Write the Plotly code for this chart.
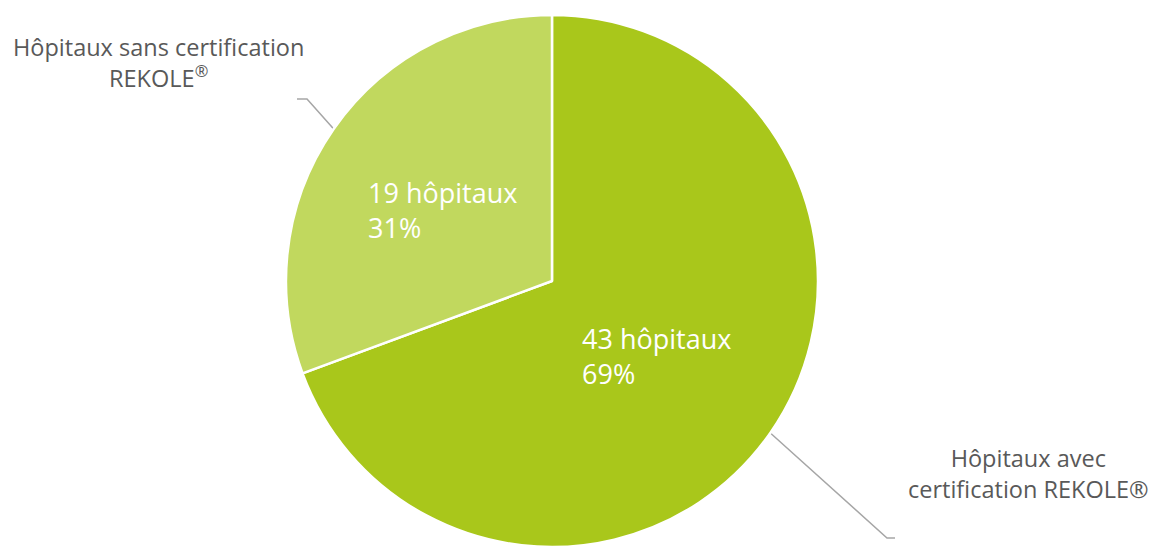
import math
import plotly.graph_objects as go

# data
labels = ["Hôpitaux avec<br>certification REKOLE®", "Hôpitaux sans certification<br>REKOLE<sup>®</sup>"]
counts = [43, 19]
percents = ["69%", "31%"]
colors = ["#A9C71B", "#C1D85E"]

W, H = 1152, 547
MT = 15
PLOT_H = H - MT


def px(x):
    return x / W


def py(y):
    return (H - y) / PLOT_H


fig = go.Figure(go.Pie(
    labels=labels,
    values=counts,
    sort=False,
    direction="clockwise",
    rotation=0,
    textinfo="none",
    hoverinfo="label+value+percent",
    marker=dict(colors=colors, line=dict(color="white", width=2.5)),
    domain=dict(x=[0.0, 0.9583], y=[0, 1]),
    showlegend=False,
))

# pie geometry in pixels
cx, cy = 0.4792 * W, MT + PLOT_H / 2
r = PLOT_H / 2

total = sum(counts)
cum = 0
mids = []
for c in counts:
    mids.append((cum + c / 2) / total * 2 * math.pi)
    cum += c

# inner labels
inner_pos = [(580, 356), (366, 210)]
for (x, y), n, p in zip(inner_pos, counts, percents):
    fig.add_annotation(x=px(x), y=py(y), xref="paper", yref="paper",
                       text=f"{n} hôpitaux<br>{p}", showarrow=False,
                       xanchor="left", yanchor="middle", align="left",
                       font=dict(family="Open Sans", size=27, color="white"))

# outer labels with leader lines
outer_pos = [(1028, 474), (158, 62)]
elbows = [((887, 538), (895, 538)), ((307, 99), (297, 99))]
for lab, (x, y), a, (e1, e2) in zip(labels, outer_pos, mids, elbows):
    fig.add_annotation(x=px(x), y=py(y), xref="paper", yref="paper",
                       text=lab, showarrow=False, xanchor="center", yanchor="middle",
                       align="center",
                       font=dict(family="Open Sans", size=23.5, color="#595959"))
    rx = cx + r * math.sin(a)
    ry = cy - r * math.cos(a)
    path = f"M {px(rx)} {py(ry)} L {px(e1[0])} {py(e1[1])} L {px(e2[0])} {py(e2[1])}"
    fig.add_shape(type="path", path=path, xref="paper", yref="paper",
                  line=dict(color="#A6A6A6", width=1.5), layer="below")

fig.update_layout(
    width=W, height=H,
    margin=dict(l=0, r=0, t=MT, b=0),
    paper_bgcolor="white",
    plot_bgcolor="white",
    font=dict(family="Open Sans"),
)

fig.write_html("out.html", config={"displayModeBar": False},
               post_script="document.body.style.margin='0';")
